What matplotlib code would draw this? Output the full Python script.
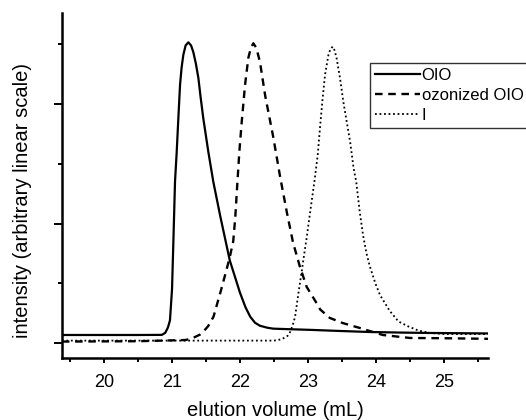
import matplotlib
matplotlib.use("Agg")
import matplotlib.pyplot as plt
from matplotlib.ticker import MultipleLocator

plt.rcParams['font.family'] = ['Liberation Sans', 'DejaVu Sans']

# OIO (solid)
oio_x = [19.38, 20.50, 20.85, 20.90, 20.94, 20.97, 21.00, 21.02, 21.044, 21.069, 21.093,
         21.118, 21.14, 21.166, 21.20, 21.24, 21.28, 21.313, 21.35, 21.387, 21.42,
         21.46, 21.534, 21.607, 21.71, 21.85, 22.00, 22.08, 22.15, 22.22, 22.29,
         22.40, 22.49, 22.75, 23.03, 23.50, 23.91, 24.40, 24.79, 25.65]
oio_y = [0.067, 0.067, 0.068, 0.085, 0.13, 0.19, 0.45, 0.85, 1.35, 1.60, 1.88,
         2.16, 2.30, 2.41, 2.49, 2.516, 2.49, 2.435, 2.34, 2.22, 2.06,
         1.88, 1.60, 1.35, 1.06, 0.69, 0.42, 0.30, 0.22, 0.17, 0.145,
         0.128, 0.12, 0.115, 0.11, 0.10, 0.092, 0.087, 0.084, 0.08]

# ozonized OIO (dashed)
ozo_x = [19.38, 20.50, 21.20, 21.30, 21.41, 21.46, 21.53, 21.61, 21.71, 21.80, 21.85,
         21.90, 21.93, 21.96, 21.99, 22.025, 22.074, 22.122, 22.16, 22.196, 22.24,
         22.294, 22.37, 22.49, 22.59, 22.69, 22.78, 22.88, 22.98, 23.13, 23.18,
         23.32, 23.51, 23.76, 24.10, 24.50, 25.00, 25.65]
ozo_y = [0.012, 0.015, 0.025, 0.04, 0.07, 0.095, 0.14, 0.22, 0.42, 0.61, 0.72,
         0.85, 1.05, 1.33, 1.60, 1.85, 2.16, 2.385, 2.47, 2.508, 2.47,
         2.35, 2.07, 1.72, 1.39, 1.09, 0.84, 0.64, 0.47, 0.33, 0.28,
         0.21, 0.167, 0.126, 0.067, 0.042, 0.04, 0.035]

# I (dotted)
i_x = [19.38, 21.00, 22.00, 22.50, 22.60, 22.64, 22.70, 22.74, 22.78, 22.81, 22.86,
       22.91, 22.93, 22.98, 23.03, 23.093, 23.143, 23.176, 23.21, 23.25, 23.30,
       23.33, 23.363, 23.39, 23.42, 23.47, 23.52, 23.57, 23.62, 23.67, 23.71,
       23.76, 23.81, 23.86, 23.91, 23.99, 24.06, 24.20, 24.33, 24.47, 24.62,
       24.78, 25.00, 25.65]
i_y = [0.02, 0.02, 0.02, 0.02, 0.03, 0.04, 0.06, 0.095, 0.16, 0.22, 0.42,
       0.61, 0.69, 0.88, 1.09, 1.347, 1.573, 1.80, 2.017, 2.243, 2.41,
       2.46, 2.48, 2.45, 2.385, 2.218, 2.017, 1.849, 1.682, 1.464, 1.347,
       1.10, 0.90, 0.75, 0.64, 0.50, 0.40, 0.27, 0.18, 0.14, 0.105,
       0.085, 0.075, 0.075]

labels = ["OIO", "ozonized OIO", "I"]
x_ticks = [20, 21, 22, 23, 24, 25]

fig = plt.figure(figsize=(5.26, 4.2), dpi=100)
ax = fig.add_axes([62/526, 1 - 358/420, 426/526, 345/420])

ax.plot(oio_x, oio_y, color='black', lw=1.6, ls='-', label=labels[0])
ax.plot(ozo_x, ozo_y, color='black', lw=1.7, ls=(0, (3.2, 2.4)), label=labels[1])
ax.plot(i_x, i_y, color='black', lw=1.3, ls=(0, (1, 1.5)), label=labels[2])

ax.set_xlim(19.382, 25.647)
ax.set_ylim(-0.1255, 2.7615)

for s in ['top', 'right']:
    ax.spines[s].set_visible(False)
for s in ['left', 'bottom']:
    ax.spines[s].set_linewidth(1.8)

ax.set_xticks(x_ticks)
ax.set_xticklabels([str(t) for t in x_ticks])
ax.xaxis.set_minor_locator(MultipleLocator(0.5))
ax.set_yticks([0, 1, 2])
ax.yaxis.set_minor_locator(MultipleLocator(0.5))
ax.set_yticklabels([])
ax.tick_params(axis='x', which='major', direction='out', length=3.5, width=1.4,
               labelsize=13, pad=8)
ax.tick_params(axis='x', which='minor', direction='out', length=3, width=1.4)
ax.tick_params(axis='y', which='major', direction='out', length=5.5, width=1.4)
ax.tick_params(axis='y', which='minor', direction='out', length=3, width=1.4)

ax.set_xlabel("elution volume (mL)", fontsize=14.5, va='center')
ax.xaxis.set_label_coords(0.5, (358 - 410) / 345)
ax.set_ylabel("intensity (arbitrary linear scale)", fontsize=14.5, va='center')
ax.yaxis.set_label_coords((23 - 62) / 426, (358 - 200) / 345)

leg = ax.legend(loc='upper left', bbox_to_anchor=(370/526, 1 - 63/420),
                bbox_transform=fig.transFigure, borderaxespad=0,
                fontsize=12, frameon=True, fancybox=False, handlelength=2.7,
                handletextpad=0.1, borderpad=0.3, labelspacing=0.3)
leg.get_frame().set_edgecolor('black')
leg.get_frame().set_linewidth(1.0)

fig.savefig("out.png", dpi=100)
